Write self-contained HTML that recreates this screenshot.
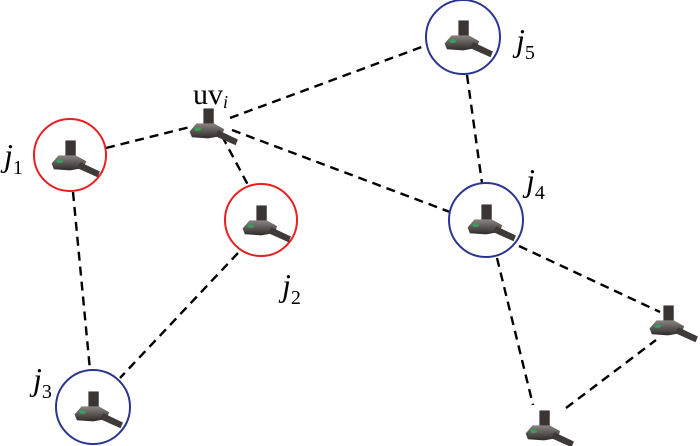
<!DOCTYPE html>
<html><head><style>body{margin:0;background:#fff}svg{display:block}</style></head><body>
<svg width="700" height="446" viewBox="0 0 700 446" xmlns="http://www.w3.org/2000/svg">
<defs>
<linearGradient id="g" x1="0" y1="0" x2="0" y2="1"><stop offset="0" stop-color="#8a8582"/><stop offset="1" stop-color="#2e2a28"/></linearGradient>
<g id="d">
<rect x="-4" y="-17" width="9" height="15" fill="#3a3533"/>
<polygon points="-16,3 -10,-4 5,-4 14,1 12,7 0,9 -14,8" fill="url(#g)"/>
<polygon points="9,2 26,10 24,15 6,7" fill="#3f3a38"/>
<ellipse cx="-9" cy="1" rx="3" ry="1.6" fill="#3c9a5a"/>
</g>
</defs>
<g stroke="#000" stroke-width="2.4" stroke-dasharray="9,6" fill="none">
<line x1="106" y1="148" x2="190" y2="127"/>
<line x1="230" y1="118" x2="427" y2="45"/>
<line x1="222" y1="136" x2="248" y2="185"/>
<line x1="232" y1="130" x2="450" y2="212"/>
<line x1="467" y1="75" x2="482" y2="183"/>
<line x1="73" y1="192" x2="90" y2="370"/>
<line x1="238" y1="253" x2="120" y2="378"/>
<line x1="519" y1="246" x2="660" y2="312"/>
<line x1="497" y1="258" x2="533" y2="405"/>
<line x1="566" y1="408" x2="656" y2="340"/>
</g>
<g fill="none" stroke-width="2">
<circle cx="70" cy="155" r="36" stroke="#e8201f"/>
<circle cx="261" cy="220" r="36" stroke="#e8201f"/>
<circle cx="463" cy="37" r="37" stroke="#2a3590"/>
<circle cx="486" cy="220" r="37" stroke="#2a3590"/>
<circle cx="93" cy="407" r="37" stroke="#2a3590"/>
</g>
<g transform="translate(70,160) scale(1.15)"><use href="#d"/></g>
<g transform="translate(261,225) scale(1.15)"><use href="#d"/></g>
<g transform="translate(463,40) scale(1.15)"><use href="#d"/></g>
<g transform="translate(486,224) scale(1.15)"><use href="#d"/></g>
<g transform="translate(93,411) scale(1.15)"><use href="#d"/></g>
<g transform="translate(208,128) scale(1.15)"><use href="#d"/></g>
<g transform="translate(668,325) scale(1.15)"><use href="#d"/></g>
<g transform="translate(544,430) scale(1.15)"><use href="#d"/></g>
<g font-family="'Liberation Serif', serif" font-size="32" fill="#000">
<text x="4" y="166" font-style="italic">j<tspan font-style="normal" font-size="20" dy="8">1</tspan></text>
<text x="282" y="296" font-style="italic">j<tspan font-style="normal" font-size="20" dy="8">2</tspan></text>
<text x="33" y="390" font-style="italic">j<tspan font-style="normal" font-size="20" dy="8">3</tspan></text>
<text x="526" y="191" font-style="italic">j<tspan font-style="normal" font-size="20" dy="8">4</tspan></text>
<text x="516" y="51" font-style="italic">j<tspan font-style="normal" font-size="20" dy="8">5</tspan></text>
<text x="193" y="104" font-size="30">uv<tspan font-style="italic" font-size="18" dy="4">i</tspan></text>
</g>
</svg>
</body></html>
